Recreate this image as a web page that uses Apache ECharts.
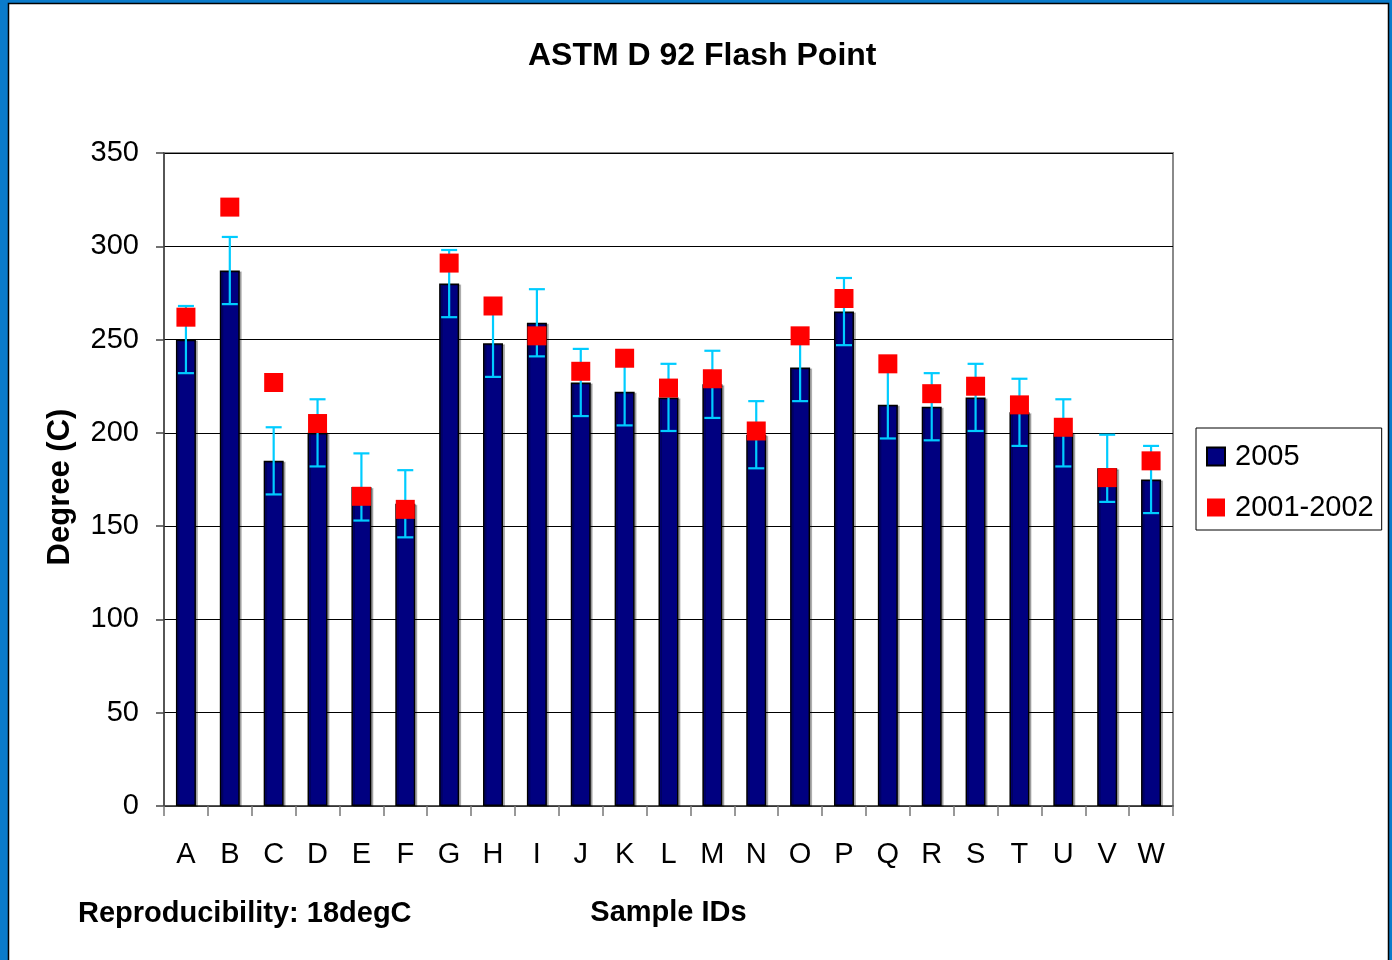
<!DOCTYPE html>
<html>
<head>
<meta charset="utf-8">
<title>ASTM D 92 Flash Point</title>
<script src="https://cdn.jsdelivr.net/npm/echarts@6/dist/echarts.min.js"></script>
<style>
  html, body { margin: 0; padding: 0; background: #fff; }
  #chart { width: 1392px; height: 960px; }
</style>
</head>
<body>
<div id="chart"></div>
<script>
const categories = ['A', 'B', 'C', 'D', 'E', 'F', 'G', 'H', 'I', 'J', 'K', 'L',
  'M', 'N', 'O', 'P', 'Q', 'R', 'S', 'T', 'U', 'V', 'W']
// 2005 round results (bars)
const values2005 = [250, 287, 185, 200, 171, 162, 280, 248, 259, 227, 222, 219,
  226, 199, 235, 265, 215, 214, 219, 211, 200, 181, 175]
// 2001-2002 results (red squares)
const values2001 = [262, 321, 227, 205, 166, 159, 291, 268, 252, 233, 240, 224,
  229, 201, 252, 272, 237, 221, 225, 215, 203, 176, 185]
// reproducibility, used for the error bars
const reproducibility = 18
const yTicks = { min: 0, max: 350, interval: 50 }

const errorData = values2005.map((v, i) => [i, v - reproducibility, v + reproducibility])

const chart = echarts.init(document.getElementById('chart'))

const font = 'Liberation Sans, Arial, sans-serif'

const option = {
  animation: false,
  textStyle: { fontFamily: font, color: '#000' },
  title: {
    text: 'ASTM D 92 Flash Point',
    left: 528,
    top: 40,
    padding: 0,
    textStyle: { fontFamily: font, fontSize: 32, fontWeight: 'bold', color: '#000' },
  },
  graphic: [
    // blue frame around the picture
    {
      type: 'rect', z: -10, silent: true,
      shape: { x: 0, y: 0, width: 1392, height: 960 },
      style: { fill: '#0A7BCB' },
    },
    {
      type: 'rect', z: -9, silent: true,
      shape: { x: 8.5, y: 3.5, width: 1380, height: 970 },
      style: { fill: '#fff', stroke: '#000', lineWidth: 1.5 },
    },
    {
      type: 'text', left: 78, top: 899,
      style: {
        text: 'Reproducibility: 18degC',
        font: 'bold 29px ' + font,
        fill: '#000',
      },
    },
    {
      type: 'text', x: 60, y: 487, rotation: Math.PI / 2,
      style: {
        text: 'Degree (C)',
        font: 'bold 31px ' + font,
        fill: '#000',
        align: 'center',
        verticalAlign: 'middle',
      },
    },
  ],
  legend: {
    data: [
      { name: '2005', icon: 'rect' },
      { name: '2001-2002', icon: 'rect' },
    ],
    orient: 'vertical',
    left: 1196,
    top: 428,
    padding: [14, 8, 8, 10],
    itemGap: 22,
    itemWidth: 18,
    itemHeight: 18,
    borderColor: '#000',
    borderWidth: 1,
    borderRadius: 0,
    textStyle: { fontFamily: font, fontSize: 29, color: '#000', padding: [0, 0, 0, 5] },
  },
  grid: {
    left: 164,
    right: 219,
    top: 153,
    bottom: 154,
    show: true,
    borderColor: '#8a8a8a',
    borderWidth: 2,
    backgroundColor: 'transparent',
  },
  xAxis: {
    type: 'category',
    data: categories,
    name: 'Sample IDs',
    nameLocation: 'middle',
    nameGap: 92,
    nameTextStyle: { fontFamily: font, fontSize: 29, fontWeight: 'bold', color: '#000' },
    axisLine: { lineStyle: { color: '#444', width: 1.5 } },
    axisTick: { show: true, length: 10, lineStyle: { color: '#777', width: 1.5 } },
    axisLabel: { fontFamily: font, fontSize: 29, color: '#000', margin: 34 },
  },
  yAxis: {
    type: 'value',
    min: yTicks.min,
    max: yTicks.max,
    interval: yTicks.interval,
    axisLine: { show: true, lineStyle: { color: '#444', width: 1.5 } },
    axisTick: { show: true, length: 8, lineStyle: { color: '#444', width: 1.5 } },
    axisLabel: { fontFamily: font, fontSize: 29, color: '#000', margin: 25 },
    splitLine: { lineStyle: { color: '#000', width: 1.2 } },
  },
  series: [
    {
      name: '2005',
      type: 'bar',
      data: values2005,
      barWidth: 20,
      itemStyle: {
        color: '#000080',
        borderColor: '#000',
        borderWidth: 1.5,
        shadowColor: 'rgba(0,0,0,0.25)',
        shadowOffsetX: 2,
        shadowOffsetY: 1,
      },
      z: 2,
    },
    {
      name: 'error',
      type: 'custom',
      data: errorData,
      z: 3,
      renderItem(params, api) {
        const x = api.value(0)
        const lo = api.coord([x, api.value(1)])
        const hi = api.coord([x, api.value(2)])
        const half = 8
        const style = { stroke: '#00CCFF', lineWidth: 2.2 }
        return {
          type: 'group',
          children: [
            { type: 'line', shape: { x1: lo[0], y1: lo[1], x2: hi[0], y2: hi[1] }, style },
            { type: 'line', shape: { x1: hi[0] - half, y1: hi[1], x2: hi[0] + half, y2: hi[1] }, style },
            { type: 'line', shape: { x1: lo[0] - half, y1: lo[1], x2: lo[0] + half, y2: lo[1] }, style },
          ],
        }
      },
    },
    {
      name: '2001-2002',
      type: 'scatter',
      data: values2001,
      symbol: 'rect',
      symbolSize: 19,
      itemStyle: { color: '#FF0000', opacity: 1 },
      z: 4,
    },
  ],
}

chart.setOption(option)
</script>
</body>
</html>
